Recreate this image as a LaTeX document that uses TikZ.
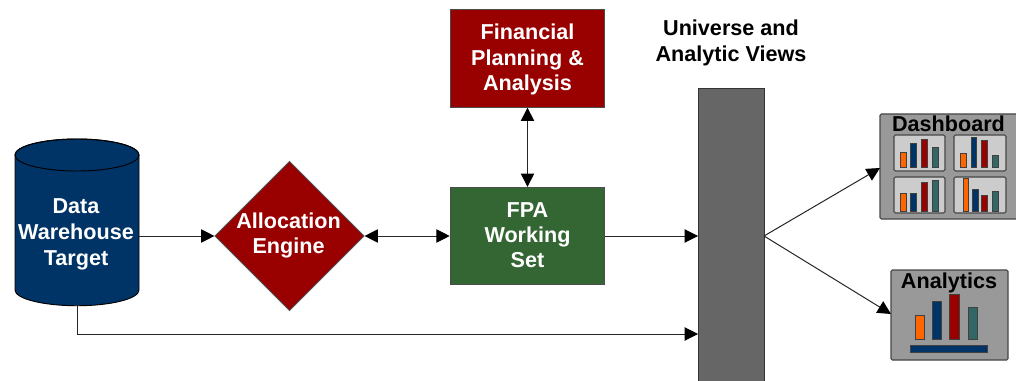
\documentclass[tikz,border=0pt]{standalone}
\usepackage{fontspec}
\setmainfont{Liberation Sans}
\usetikzlibrary{shapes.geometric,arrows.meta,calc}
\definecolor{navy}{RGB}{0,51,102}
\definecolor{dred}{RGB}{153,0,0}
\definecolor{dgreen}{RGB}{51,102,51}
\definecolor{bargray}{RGB}{102,102,102}
\definecolor{boxgray}{RGB}{153,153,153}
\definecolor{panelgray}{RGB}{204,204,204}
\definecolor{bor}{RGB}{255,102,0}
\definecolor{bteal}{RGB}{51,102,102}
\definecolor{edgegray}{RGB}{70,70,70}
\tikzset{
 x=0.75pt,y=-0.75pt,
 lbl/.style={font=\fontsize{16.2}{19.4}\selectfont\bfseries,align=center,inner sep=0pt},
 wlbl/.style={lbl,text=white},
 tip/.tip={Triangle[length=10pt,width=10pt,color=black,fill=black]},
 conn/.style={draw=black!85,line width=0.75pt,-tip},
 dconn/.style={draw=black!85,line width=0.75pt,tip-tip},
 panel/.style={draw=edgegray,line width=0.8pt,fill=panelgray,rounded corners=1pt},
 gbox/.style={draw=edgegray,line width=0.8pt,fill=boxgray,rounded corners=1pt},
 bbar/.style={draw=black!75,line width=0.7pt},
}
\newcommand{\minibar}[5]{\draw[bbar,fill=#5] (#1,#4) rectangle (#2,#3);}
\begin{document}
\begin{tikzpicture}
\useasboundingbox (0,0) rectangle (1016,381);
% cylinder
\draw[draw=black,line width=0.7pt,fill=navy] (15,155) -- (15,290)
  arc[start angle=180,end angle=360,x radius=46.5pt,y radius=11.8pt] -- (139,155)
  arc[start angle=0,end angle=180,x radius=46.5pt,y radius=12pt] -- cycle;
\draw[draw=black,line width=0.7pt] (77,155) ellipse[x radius=46.5pt,y radius=12pt];
\node[rectangle,minimum width=93pt,minimum height=125.25pt,inner sep=0pt] (dw) at (77,222.5) {};
\node[wlbl] (dwt) at (76,234.5) {Data\\Warehouse\\Target};
% diamond
\node[diamond,draw=black!70,line width=0.6pt,fill=dred,minimum width=112pt,minimum height=112pt,inner sep=0pt,aspect=1] (ae) at (289.5,236) {};
\node[wlbl,font=\fontsize{16.2}{18.8}\selectfont\bfseries] (aet) at (288.5,235.5) {Allocation\\Engine};
% boxes
\node[draw=black!70,line width=0.7pt,fill=dred,minimum width=116pt,minimum height=73pt,inner sep=0pt] (fp) at (527.5,58.5) {};
\node[wlbl] (fpt) at (527.5,59.5) {Financial\\Planning \&\\Analysis};
\node[draw=black!70,line width=0.7pt,fill=dgreen,minimum width=116pt,minimum height=73pt,inner sep=0pt] (fs) at (527.5,236) {};
\node[wlbl,font=\fontsize{16.2}{18.8}\selectfont\bfseries] (fst) at (527.5,235) {FPA\\Working\\Set};
% bar
\fill[bargray,draw=black!80,line width=0.7pt] (698,88) rectangle (764,385);
\coordinate (barL) at (698,236);
\coordinate (barR) at (764,236);
\coordinate (barL2) at (698,334);
\node[lbl] (uv) at (731,43) {Universe and\\Analytic Views};
% dashboard
\path[gbox] (880,114) rectangle (1022,219);
\coordinate (dbL) at (880,168);
\node[lbl] (dbt) at (948.5,124) {Dashboard};
\path[panel] (894,135) rectangle (945,171);
\path[panel] (954,135) rectangle (1006,171);
\path[panel] (894,177) rectangle (945,213);
\path[panel] (954,177) rectangle (1006,213);
\minibar{900.7}{906.7}{167.7}{152.3}{bor}\minibar{910.7}{916.7}{167.7}{143.5}{navy}\minibar{921}{927.5}{167.7}{139}{dred}\minibar{932.7}{938.7}{167.7}{147}{bteal}
\minibar{960.3}{966.3}{167.7}{153}{bor}\minibar{971}{976.7}{167.7}{137.5}{navy}\minibar{981.3}{987.5}{167.7}{140}{dred}\minibar{992.7}{998.7}{167.7}{155}{bteal}
\minibar{900.7}{906.7}{211}{193.3}{bor}\minibar{910.7}{916.7}{211}{193.3}{navy}\minibar{921}{927.5}{211}{182}{dred}\minibar{932.7}{938.7}{211}{180}{bteal}
\minibar{963}{968.7}{211}{178.7}{bor}\minibar{972.3}{978}{211}{189}{navy}\minibar{981.7}{987.7}{211}{195}{dred}\minibar{992.7}{998.2}{211}{191.7}{bteal}
% analytics
\path[gbox] (891,270) rectangle (1008,360);
\coordinate (anL) at (891,314);
\node[lbl] (ant) at (949,282.5) {Analytics};
\draw[bbar,fill=bor] (915.7,315) rectangle (924.3,339);
\draw[bbar,fill=navy] (932.5,301) rectangle (941,339);
\draw[bbar,fill=dred] (949.5,294) rectangle (959.5,339);
\draw[bbar,fill=bteal] (968.5,307) rectangle (977.5,339);
\draw[bbar,fill=navy] (910,345) rectangle (987,352);
% connectors
\draw[conn] (dw.east |- ae.west) -- (ae.west);
\draw[dconn] (ae.east) -- (fs.west);
\draw[dconn] (fp.south) -- (fs.north);
\draw[conn] (fs.east) -- (barL);
\draw[conn] (dw.south) |- (barL2);
\draw[conn] (barR) -- (dbL);
\draw[conn] (barR) -- (anL);
\end{tikzpicture}
\end{document}
